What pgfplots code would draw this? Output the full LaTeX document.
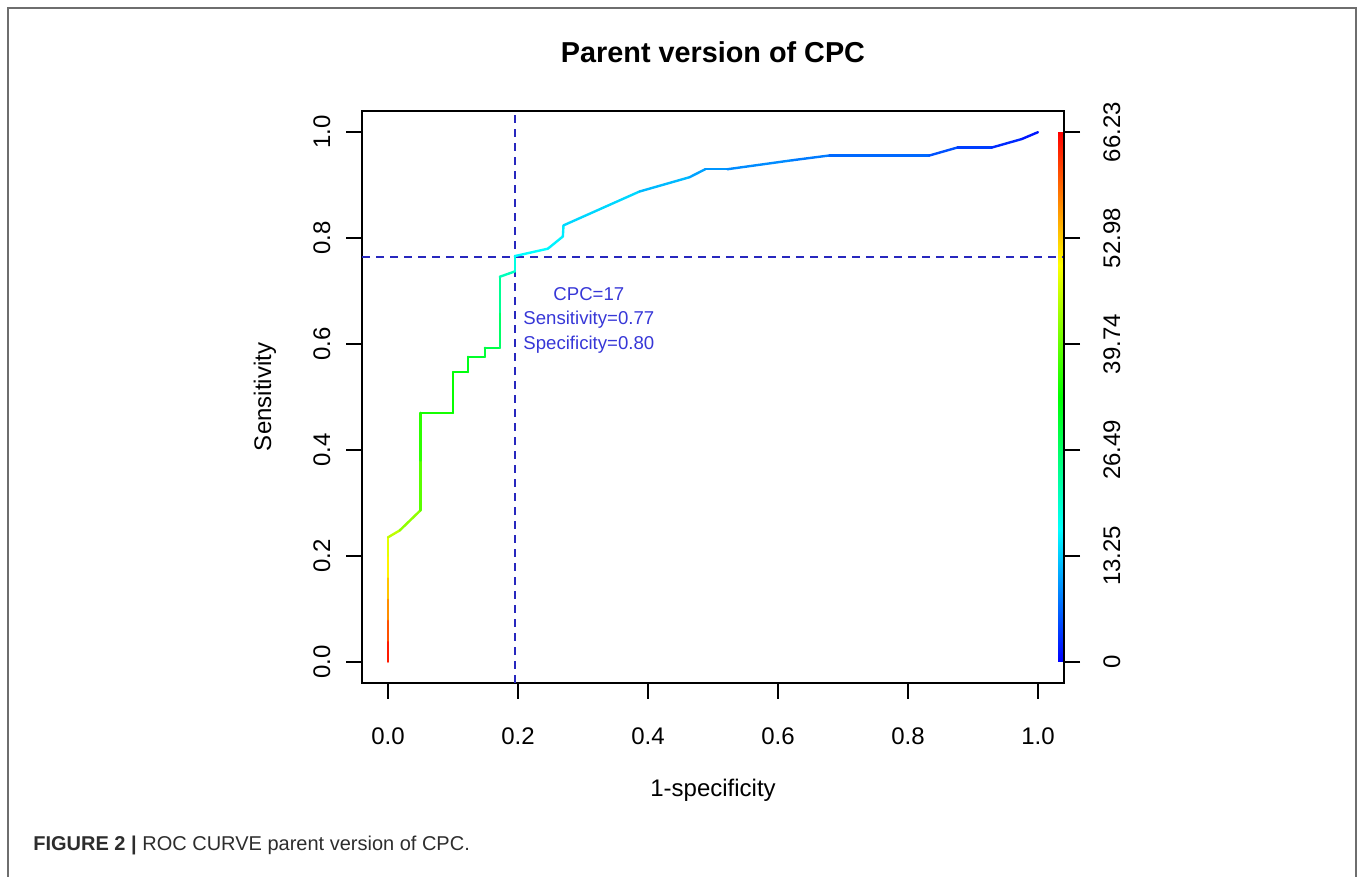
\documentclass[border=0pt]{standalone}
\usepackage{pgfplots}
\pgfplotsset{compat=1.18}
\usepackage{fontspec}
\setmainfont{Liberation Sans}
\definecolor{ablue}{RGB}{40,40,190}
\definecolor{tblue}{RGB}{55,55,215}
\definecolor{framegray}{RGB}{110,110,110}
\definecolor{capgray}{RGB}{45,45,45}
\pgfplotsset{
  colormap={rocmap}{rgb255=(0,0,255) rgb255=(0,255,255) rgb255=(0,255,0) rgb255=(255,255,0) rgb255=(255,0,0)},
}
\begin{document}
\begin{tikzpicture}
\path[use as bounding box] (0pt,0pt) rectangle (678.5pt,438.5pt);
\draw[framegray, line width=1.1pt] (4pt,0pt) -- (4pt,434.5pt) -- (678pt,434.5pt) -- (678pt,0pt);
\begin{axis}[
  at={(181pt,97pt)}, anchor=south west,
  scale only axis, width=351pt, height=286pt,
  xmin=-0.04, xmax=1.04, ymin=-0.04, ymax=1.04,
  colormap name=rocmap, point meta min=0, point meta max=66.23,
  axis line style={line width=0.9pt, black},
  tick pos=left, tick align=outside, major tick length=8pt,
  tick style={line width=0.8pt, black},
  xtick={0,0.2,0.4,0.6,0.8,1}, xticklabels={0.0,0.2,0.4,0.6,0.8,1.0},
  ytick={0,0.2,0.4,0.6,0.8,1}, yticklabels={0.0,0.2,0.4,0.6,0.8,1.0},
  /pgf/number format/assume math mode=true,
  ticklabel style={font=\fontsize{12}{14}\selectfont},
  xticklabel style={anchor=base}, xticklabel shift=23pt,
  yticklabel style={rotate=90, anchor=base}, yticklabel shift=8pt,
]
% colour key
\addplot[surf, shader=interp, mesh/cols=2, point meta=explicit] table[x=x, y=y, meta=c] {
x y c
1.031 0 0
1.04 0 0
1.031 0.25 16.5575
1.04 0.25 16.5575
1.031 0.5 33.115
1.04 0.5 33.115
1.031 0.75 49.6725
1.04 0.75 49.6725
1.031 1 66.23
1.04 1 66.23
};
% cut-off lines
\addplot[ablue, line width=0.8pt, dash pattern=on 4pt off 3pt] coordinates {(-0.04,0.764) (1.04,0.764)};
\addplot[ablue, line width=0.8pt, dash pattern=on 4pt off 3pt] coordinates {(0.195,-0.04) (0.195,1.04)};
% ROC curve coloured by cut-off
\addplot[mesh, point meta=explicit, line width=1.2pt, line join=round, line cap=round] table[x=x, y=y, meta=c] {
x y c
0.000 0.000 66.2
0.000 0.040 63
0.000 0.080 59
0.000 0.120 55
0.000 0.160 52
0.000 0.200 49
0.000 0.235 47
0.018 0.248 44
0.050 0.286 41
0.050 0.380 37
0.050 0.470 35
0.100 0.470 34
0.100 0.547 33
0.123 0.547 32
0.123 0.576 31
0.149 0.576 30
0.149 0.593 29
0.172 0.593 28
0.172 0.660 25
0.172 0.727 22
0.195 0.737 20
0.195 0.766 17
0.246 0.780 16
0.269 0.803 15.5
0.270 0.824 15
0.387 0.888 13
0.464 0.915 11
0.488 0.930 10
0.522 0.930 9.5
0.622 0.947 8.5
0.679 0.956 7.5
0.833 0.956 6
0.876 0.971 4.5
0.929 0.971 3.5
0.975 0.987 2
1.000 1.000 1
};
\node[tblue, font=\fontsize{9.3}{11}\selectfont, anchor=base] at (axis cs:0.309,0.683) {CPC=17};
\node[tblue, font=\fontsize{9.3}{11}\selectfont, anchor=base] at (axis cs:0.309,0.636) {Sensitivity=0.77};
\node[tblue, font=\fontsize{9.3}{11}\selectfont, anchor=base] at (axis cs:0.309,0.589) {Specificity=0.80};
\end{axis}
\begin{axis}[
  at={(181pt,97pt)}, anchor=south west,
  scale only axis, width=351pt, height=286pt,
  xmin=-0.04, xmax=1.04, ymin=-2.649, ymax=68.879,
  hide x axis, axis y line*=right,
  axis line style={line width=0.9pt, black},
  tick align=outside, major tick length=8pt,
  tick style={line width=0.8pt, black},
  ytick={0,13.25,26.49,39.74,52.98,66.23},
  yticklabels={0,13.25,26.49,39.74,52.98,66.23},
  /pgf/number format/assume math mode=true,
  ticklabel style={font=\fontsize{12}{14}\selectfont},
  yticklabel style={rotate=90, anchor=base}, yticklabel shift=20pt,
]
\end{axis}
\node[font=\bfseries\fontsize{14.4}{17}\selectfont, anchor=base] at (356.5pt,407pt) {Parent version of CPC};
\node[font=\fontsize{12}{14}\selectfont, anchor=base] at (356.5pt,40pt) {1-specificity};
\node[font=\fontsize{12}{14}\selectfont, rotate=90, anchor=base] at (135.5pt,240pt) {Sensitivity};
\node[capgray, font=\fontsize{10}{12}\selectfont, anchor=base west, inner sep=0pt] at (16.5pt,13pt) {\textbf{FIGURE 2 |} ROC CURVE parent version of CPC.};
\end{tikzpicture}
\end{document}
